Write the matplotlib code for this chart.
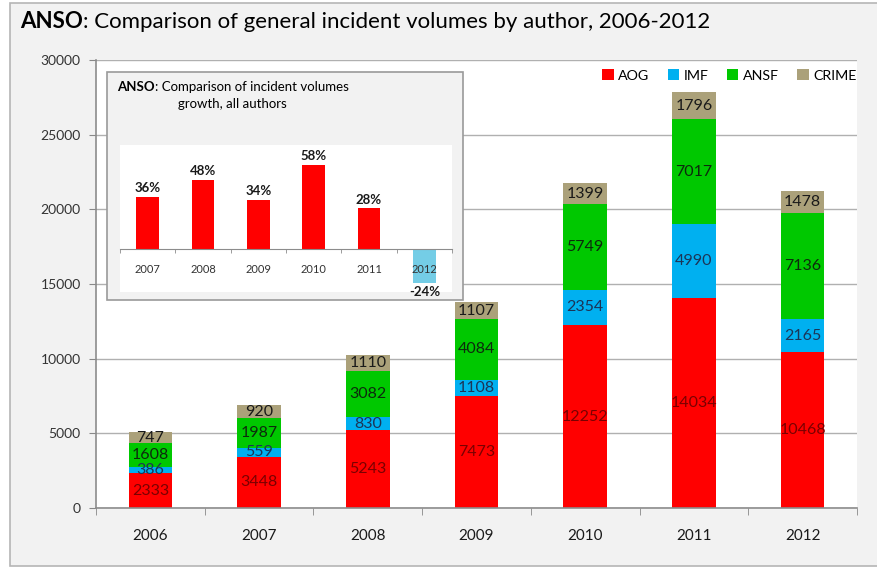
import matplotlib
matplotlib.use("Agg")
import matplotlib.pyplot as plt
import numpy as np
from matplotlib.patches import Rectangle, Patch

# ---- data ----
years = ['2006', '2007', '2008', '2009', '2010', '2011', '2012']
aog = [2333, 3448, 5243, 7473, 12252, 14034, 10468]
imf = [386, 559, 830, 1108, 2354, 4990, 2165]
ansf = [1608, 1987, 3082, 4084, 5749, 7017, 7136]
crime = [747, 920, 1110, 1107, 1399, 1796, 1478]
series_names = ['AOG', 'IMF', 'ANSF', 'CRIME']

growth_years = ['2007', '2008', '2009', '2010', '2011', '2012']
growth = [36, 48, 34, 58, 28, -24]

# ---- style ----
FONT = 'Lato'
plt.rcParams['font.family'] = [FONT, 'DejaVu Sans']
colors = ['#ff0000', '#00b0f0', '#00c800', '#aba17a']
label_colors = ['#7a0000', '#1c3557', '#0d2a0d', '#1a1a1a']

W, H = 877, 567
fig = plt.figure(figsize=(W / 100, H / 100), dpi=100, facecolor='white')

def fx(px):
    return px / W

def fy(py):
    return 1 - py / H

# outer frame
fig.patches.append(Rectangle((fx(10), fy(566)), fx(900 - 10), (566 - 3) / H,
                             transform=fig.transFigure, facecolor='#f2f2f2',
                             edgecolor='#b5b5b5', linewidth=1.2, zorder=-1))

# ---- main axes ----
ax = fig.add_axes([fx(96), fy(508), fx(857 - 96), (508 - 60) / H], zorder=0)
ax.set_facecolor('white')
x = np.arange(len(years))
bw = 0.4
bottom = np.zeros(len(years))
for vals, c, lc, name in zip([aog, imf, ansf, crime], colors, label_colors, series_names):
    vals = np.array(vals, dtype=float)
    ax.bar(x, vals, bw, bottom=bottom, color=c, label=name, zorder=2)
    for xi, b, v in zip(x, bottom, vals):
        ax.text(xi, b + v / 2, f'{int(v)}', ha='center', va='center',
                fontsize=11.5, color=lc, zorder=3)
    bottom += vals

ax.set_xlim(-0.5, len(years) - 0.5)
ax.set_ylim(0, 30000)
ax.set_yticks(np.arange(0, 30001, 5000))
ax.yaxis.grid(True, color='#b0b0b0', linewidth=1.0, zorder=0)
ax.set_axisbelow(True)
ax.set_xticks(x)
ax.set_xticklabels(years)
ax.set_xticks(np.arange(-0.5, len(years)), minor=True)
ax.tick_params(axis='x', which='major', length=0, pad=15, labelsize=11, labelcolor='#1a1a1a')
ax.tick_params(axis='x', which='minor', length=5, color='#888888')
ax.tick_params(axis='y', length=5, color='#888888', labelsize=10, labelcolor='#333333', pad=6)
for s in ['top', 'right']:
    ax.spines[s].set_visible(False)
for s in ['left', 'bottom']:
    ax.spines[s].set_color('#8c8c8c')
    ax.spines[s].set_linewidth(1.2)

handles = [Patch(facecolor=c, edgecolor='none') for c in colors]
ax.legend(handles, series_names, loc='upper right', bbox_to_anchor=(1.016, 1.008),
          ncol=4, frameon=False, fontsize=10.3, handlelength=0.8, handleheight=0.8,
          handletextpad=0.3, columnspacing=1.3)

# ---- main title ----
t1 = fig.text(fx(20), fy(22), 'ANSO', fontsize=16, fontweight='bold', va='center', ha='left',
              color='black')
ax.annotate(': Comparison of general incident volumes by author, 2006-2012',
            xy=(1, 0), xycoords=t1, va='bottom', ha='left', fontsize=16, color='black',
            annotation_clip=False)

# ---- inset ----
fig.patches.append(Rectangle((fx(107), fy(300)), fx(463 - 107), (300 - 72) / H,
                             transform=fig.transFigure, facecolor='#f2f2f2',
                             edgecolor='#9a9a9a', linewidth=1.2, zorder=5))
iax = fig.add_axes([fx(120), fy(292), fx(452 - 120), (292 - 145) / H], zorder=6)
iax.set_facecolor('white')
gx = np.arange(len(growth_years))
gcols = ['#ff0000' if g >= 0 else '#74cde6' for g in growth]
iax.bar(gx, growth, 0.41, color=gcols, zorder=1)
for xi, g in zip(gx, growth):
    if g >= 0:
        iax.text(xi, g + 2, f'{g}%', ha='center', va='bottom', fontsize=9.5,
                 fontweight='bold', color='#1a1a1a')
    else:
        iax.text(xi, g - 1.5, f'{g}%', ha='center', va='top', fontsize=9.5,
                 fontweight='bold', color='#1a1a1a', clip_on=False, zorder=10)
iax.set_xlim(-0.5, len(growth_years) - 0.5)
iax.set_ylim(-30, 72)
iax.set_yticks([])
for s in ['top', 'right', 'left']:
    iax.spines[s].set_visible(False)
iax.spines['bottom'].set_position(('data', 0))
iax.spines['bottom'].set_color('#8c8c8c')
iax.set_xticks(gx)
iax.set_xticklabels(growth_years)
iax.set_xticks(np.arange(-0.5, len(growth_years)), minor=True)
iax.tick_params(axis='x', which='major', length=0, pad=11, labelsize=8, labelcolor='#333333')
iax.tick_params(axis='x', which='minor', length=3, color='#8c8c8c')

it1 = fig.text(fx(117), fy(87), 'ANSO', fontsize=9.5, fontweight='bold', va='center', ha='left',
               zorder=7)
iax.annotate(': Comparison of incident volumes', xy=(1, 0), xycoords=it1, va='bottom',
             ha='left', fontsize=9.5, annotation_clip=False, zorder=7)
fig.text(fx(178), fy(104), 'growth, all authors', fontsize=9.5, va='center', ha='left', zorder=7)

fig.savefig('out.png', dpi=100, facecolor='white')
